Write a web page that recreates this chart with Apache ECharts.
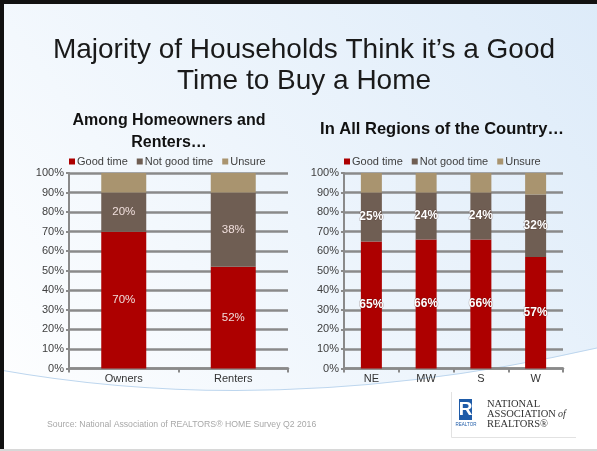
<!DOCTYPE html>
<html>
<head>
<meta charset="utf-8">
<script src="https://cdn.jsdelivr.net/npm/echarts@6/dist/echarts.min.js"></script>
<style>
html,body{margin:0;padding:0;background:#fff;}
#main{width:597px;height:451px;}
</style>
</head>
<body>
<div id="main"></div>
<script>
var seriesNames = ['Good time', 'Not good time', 'Unsure'];
var leftCategories = ['Owners', 'Renters'];
var leftGood = [70, 52];
var leftNotGood = [20, 38];
var leftUnsure = [10, 10];
var rightCategories = ['NE', 'MW', 'S', 'W'];
var rightGood = [65, 66, 66, 57];
var rightNotGood = [25, 24, 24, 32];
var rightUnsure = [10, 10, 10, 11];
var yTicks = [0, 10, 20, 30, 40, 50, 60, 70, 80, 90, 100];

var colors = ['#AD0000', '#6F5E53', '#A9946F'];
var chart = echarts.init(document.getElementById('main'), null, {renderer: 'canvas'});

function yAxis(gi) {
  return {
    type: 'value', gridIndex: gi, min: yTicks[0], max: yTicks[yTicks.length - 1], interval: yTicks[1] - yTicks[0],
    axisLine: {show: true, lineStyle: {color: '#8a8a8a', width: 2}},
    axisTick: {show: true, length: 3, lineStyle: {color: '#8a8a8a', width: 2}},
    axisLabel: {formatter: '{value}%', color: '#404040', fontSize: 11, margin: 5, fontFamily: 'Liberation Sans'},
    splitLine: {show: true, lineStyle: {color: '#8a8a8a', width: 2.5}}
  };
}
function xAxis(gi, cats) {
  return {
    type: 'category', gridIndex: gi, data: cats,
    axisLine: {show: true, lineStyle: {color: '#8a8a8a', width: 2.5}},
    axisTick: {show: true, length: 4, lineStyle: {color: '#8a8a8a', width: 2}},
    axisLabel: {color: '#333', fontSize: 11, margin: 5, fontFamily: 'Liberation Sans'}
  };
}
function mk(gi, name, data, ci, bw, labelStyle) {
  return {
    type: 'bar', name: name, stack: 'g' + gi, xAxisIndex: gi, yAxisIndex: gi,
    data: data, barWidth: bw, itemStyle: {color: colors[ci]},
    label: labelStyle ? Object.assign({show: true, position: 'inside', formatter: '{c}%'}, labelStyle) : {show: false}
  };
}
var leftLab = {color: '#F0DEDC', fontSize: 11.5, fontFamily: 'Liberation Sans'};
var rightLab = {color: '#ffffff', fontSize: 12, fontWeight: 'bold', fontFamily: 'Liberation Sans Narrow, Liberation Sans', textBorderColor: 'rgba(60,30,30,0.35)', textBorderWidth: 1};

// decorative swoosh outline (background only)
var swoosh = {x0: 0, y0: 370, cx: 280, cy: 420, x1: 597, y1: 348};
var swooshPts = [];
for (var i = 0; i <= 40; i++) {
  var t = i / 40, u = 1 - t;
  swooshPts.push([u * u * swoosh.x0 + 2 * u * t * swoosh.cx + t * t * swoosh.x1,
                  u * u * swoosh.y0 + 2 * u * t * swoosh.cy + t * t * swoosh.y1]);
}
swooshPts.push([597, 451], [0, 451]);

var option = {
  animation: false,
  backgroundColor: 'transparent',
  graphic: [
    {type: 'rect', z: -10, shape: {x: 0, y: 0, width: 597, height: 451},
     style: {fill: new echarts.graphic.LinearGradient(0, 1, 1, 0, [
       {offset: 0, color: '#FFFFFF'}, {offset: 0.35, color: '#F3F8FD'}, {offset: 1, color: '#DDEBF9'}])}},
    {type: 'polygon', z: -9, shape: {points: swooshPts}, style: {fill: '#FFFFFF'}},
    {type: 'bezierCurve', z: -8, shape: {x1: swoosh.x0, y1: swoosh.y0, cpx1: swoosh.cx, cpy1: swoosh.cy, x2: swoosh.x1, y2: swoosh.y1},
     style: {stroke: '#BDD6EE', lineWidth: 1.2, fill: null}},
    {type: 'rect', z: 10, shape: {x: 0, y: 0, width: 597, height: 4}, style: {fill: '#111'}},
    {type: 'rect', z: 10, shape: {x: 0, y: 0, width: 4, height: 451}, style: {fill: '#111'}},
    {type: 'rect', z: 10, shape: {x: 0, y: 449, width: 597, height: 2}, style: {fill: '#D8D8D8'}},
    {type: 'line', z: 5, shape: {x1: 451.5, y1: 392, x2: 451.5, y2: 437.5}, style: {stroke: '#E2E2E2', lineWidth: 1}},
    {type: 'line', z: 5, shape: {x1: 451.5, y1: 437.5, x2: 576, y2: 437.5}, style: {stroke: '#E2E2E2', lineWidth: 1}},
    {type: 'rect', z: 5, shape: {x: 459, y: 399, width: 13, height: 21}, style: {fill: '#1E5BA8'}},
    {type: 'text', z: 6, style: {x: 465.5, y: 410, text: 'R', fill: '#fff', font: 'bold 19px Liberation Sans', align: 'center', verticalAlign: 'middle'}},
    {type: 'text', z: 6, style: {x: 466, y: 425, text: 'REALTOR', fill: '#1E5BA8', font: '4.5px Liberation Sans', align: 'center', verticalAlign: 'middle'}},
    {type: 'text', z: 6, style: {x: 487, y: 404, text: 'NATIONAL', fill: '#333', font: '10.5px Liberation Serif', verticalAlign: 'middle'}},
    {type: 'text', z: 6, style: {x: 487, y: 414, text: 'ASSOCIATION', fill: '#333', font: '10.5px Liberation Serif', verticalAlign: 'middle'}},
    {type: 'text', z: 6, style: {x: 558, y: 414, text: 'of', fill: '#333', font: 'italic 10px Liberation Serif', verticalAlign: 'middle'}},
    {type: 'text', z: 6, style: {x: 487, y: 424, text: 'REALTORS®', fill: '#333', font: '10.5px Liberation Serif', verticalAlign: 'middle'}},
    {type: 'text', z: 6, style: {x: 47, y: 425, text: 'Source: National Association of REALTORS® HOME Survey Q2 2016', fill: '#A8A8A8', font: '8.7px Liberation Sans', verticalAlign: 'middle'}}
  ],
  title: [
    {text: 'Majority of Households Think it\u2019s a Good\nTime to Buy a Home', left: 299, top: 30, textAlign: 'center',
     textStyle: {fontSize: 28, fontWeight: 'normal', color: '#1a1a1a', fontFamily: 'Liberation Sans', lineHeight: 31}},
    {text: 'Among Homeowners and\nRenters\u2026', left: 164, top: 105, textAlign: 'center',
     textStyle: {fontSize: 16, fontWeight: 'bold', color: '#111', fontFamily: 'Liberation Sans', lineHeight: 22}},
    {text: 'In All Regions of the Country\u2026', left: 437, top: 116, textAlign: 'center',
     textStyle: {fontSize: 16.5, fontWeight: 'bold', color: '#111', fontFamily: 'Liberation Sans'}}
  ],
  legend: [
    {data: seriesNames, left: 64, top: 151, icon: 'rect', itemWidth: 6, itemHeight: 6, itemGap: 9,
     textStyle: {fontSize: 11, color: '#404040', fontFamily: 'Liberation Sans', padding: [0, 0, 0, -3]}},
    {data: seriesNames, left: 339, top: 151, icon: 'rect', itemWidth: 6, itemHeight: 6, itemGap: 9,
     textStyle: {fontSize: 11, color: '#404040', fontFamily: 'Liberation Sans', padding: [0, 0, 0, -3]}}
  ],
  grid: [
    {left: 69, top: 173, width: 219, height: 195.5, containLabel: false},
    {left: 344, top: 173, width: 219, height: 195.5, containLabel: false}
  ],
  xAxis: [xAxis(0, leftCategories), xAxis(1, rightCategories)],
  yAxis: [yAxis(0), yAxis(1)],
  series: [
    mk(0, seriesNames[0], leftGood, 0, 45, leftLab),
    mk(0, seriesNames[1], leftNotGood, 1, 45, leftLab),
    mk(0, seriesNames[2], leftUnsure, 2, 45, null),
    mk(1, seriesNames[0], rightGood, 0, 21, rightLab),
    mk(1, seriesNames[1], rightNotGood, 1, 21, rightLab),
    mk(1, seriesNames[2], rightUnsure, 2, 21, null)
  ]
};
chart.setOption(option);
</script>
</body>
</html>
